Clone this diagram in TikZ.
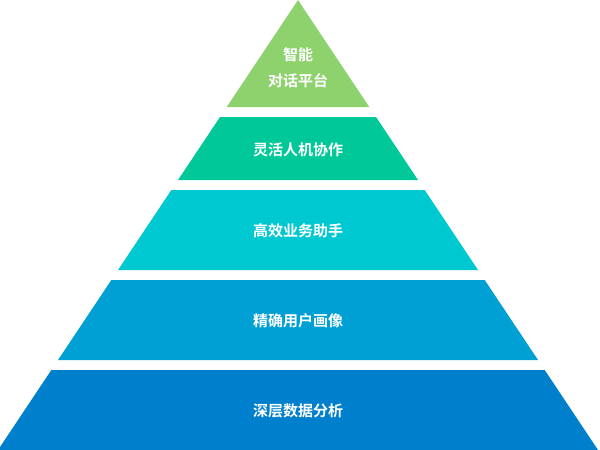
\documentclass[tikz,border=0pt]{standalone}
\usepackage{fontspec}
\newfontfamily\cjk{Noto Sans CJK SC}[BoldFont={Noto Sans CJK SC Bold}]
\usetikzlibrary{positioning,calc}
\definecolor{layerA}{RGB}{142,210,110}
\definecolor{layerB}{RGB}{0,200,152}
\definecolor{layerC}{RGB}{0,200,208}
\definecolor{layerD}{RGB}{0,160,212}
\definecolor{layerE}{RGB}{0,128,204}
\tikzset{
  label/.style={text=white,font=\cjk\bfseries\fontsize{15}{26}\selectfont,align=center}
}
\begin{document}
\begin{tikzpicture}[x=1pt,y=-1pt]
    \useasboundingbox (0,0) rectangle (600,450);
    % apex at (298,0), half width grows by 2/3 per unit down
    \fill[layerA] (298,0) -- (298-71.3,107) -- (298+71.3,107) -- cycle;
    \foreach \t/\b/\c in {117/180/layerB,190/270/layerC,280/360/layerD,370/450/layerE} {
      \fill[\c] (298-\t*2/3,\t) -- (298+\t*2/3,\t) -- (298+\b*2/3,\b) -- (298-\b*2/3,\b) -- cycle;
    }
    \node[label] (smart) at (298,68) {智能\\对话平台};
    \node[label] (collab) at (298,150) {灵活人机协作};
    \node[label] (assist) at (298,231) {高效业务助手};
    \node[label] (portrait) at (298,321) {精确用户画像};
    \node[label] (analysis) at (298,411) {深层数据分析};
\end{tikzpicture}
\end{document}
